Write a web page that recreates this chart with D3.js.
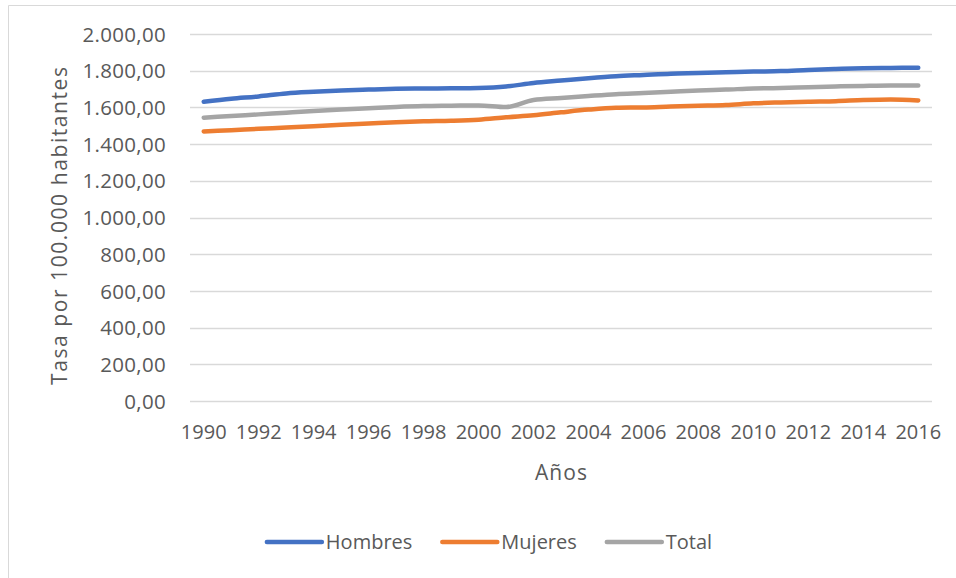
<!DOCTYPE html>
<html>
<head>
<meta charset="utf-8">
<script src="https://cdn.jsdelivr.net/npm/d3@7/dist/d3.min.js"></script>
<style>
  html, body { margin: 0; padding: 0; background: #fff; }
  svg { display: block; }
  text { font-family: "Open Sans", "Noto Sans", sans-serif; fill: #595959; }
</style>
</head>
<body>
<svg id="chart" width="956" height="578"></svg>
<script>
const years = [1990,1991,1992,1993,1994,1995,1996,1997,1998,1999,2000,2001,2002,2003,2004,2005,2006,2007,2008,2009,2010,2011,2012,2013,2014,2015,2016];
const hombres = [1631,1647,1660,1676,1685,1692,1697,1701,1703,1704,1706,1714,1733,1746,1759,1770,1777,1784,1787,1791,1795,1798,1804,1809,1813,1815,1816];
const mujeres = [1469,1476,1483,1490,1497,1505,1512,1519,1524,1527,1533,1546,1557,1573,1588,1598,1600,1605,1609,1613,1622,1627,1631,1634,1640,1643,1638];
const total   = [1544,1553,1562,1571,1580,1588,1595,1602,1607,1609,1611,1602,1640,1651,1662,1672,1678,1685,1692,1697,1703,1706,1710,1714,1717,1719,1719];
const yTicks = [0,200,400,600,800,1000,1200,1400,1600,1800,2000];
const xTickYears = [1990,1992,1994,1996,1998,2000,2002,2004,2006,2008,2010,2012,2014,2016];
const seriesNames = ["Hombres","Mujeres","Total"];
const seriesColors = ["#4472C4","#ED7D31","#A5A5A5"];

const svg = d3.select("#chart");
// chart border (only top and left visible in reference)
svg.append("line").attr("x1",8.5).attr("x2",956).attr("y1",5.5).attr("y2",5.5).attr("stroke","#d9d9d9").attr("stroke-width",1);
svg.append("line").attr("x1",8.5).attr("x2",8.5).attr("y1",5.5).attr("y2",578).attr("stroke","#d9d9d9").attr("stroke-width",1);

const x = d3.scaleBand().domain(years).range([190, 932]).padding(0);
const px = d => x(d) + x.bandwidth()/2;
const y = d3.scaleLinear().domain([0,2000]).range([401, 34]);

const loc = d3.formatLocale({decimal: ",", thousands: ".", grouping: [3], currency: ["", ""]});
const fmt = loc.format(",.2f");

// gridlines
svg.append("g").selectAll("line").data(yTicks).join("line")
  .attr("x1",190).attr("x2",932)
  .attr("y1",d=>Math.round(y(d))+0.5).attr("y2",d=>Math.round(y(d))+0.5)
  .attr("stroke","#d9d9d9").attr("stroke-width",1.3);

// y axis labels
const yAxis = d3.axisLeft(y).tickValues(yTicks).tickFormat(fmt).tickSize(0).tickPadding(0);
const gy = svg.append("g").attr("transform","translate(166,0)").call(yAxis);
gy.select(".domain").remove();
gy.selectAll("text").attr("font-size","20.5px").style("font-family","'Open Sans', sans-serif").attr("fill","#595959").attr("dy","0.35em").style("letter-spacing","0.3px");

// x axis labels
const xAxis = d3.axisBottom(x).tickValues(xTickYears).tickSize(0).tickPadding(0);
const gx = svg.append("g").attr("transform","translate(0,425)").call(xAxis);
gx.select(".domain").remove();
gx.selectAll("text").attr("font-size","20px").style("font-family","'Open Sans', sans-serif").attr("fill","#595959").attr("dy","0.72em");

// lines
const line = d3.line().x((d,i)=>px(years[i])).y(d=>y(d)).curve(d3.curveMonotoneX);
[hombres, mujeres, total].forEach((s,k)=>{
  svg.append("path").datum(s).attr("d",line)
    .attr("fill","none").attr("stroke",seriesColors[k]).attr("stroke-width",4.5)
    .attr("stroke-linecap","round").attr("stroke-linejoin","round");
});

// axis titles
svg.append("text").attr("x",561).attr("y",480).attr("text-anchor","middle").attr("font-size","21px")
  .attr("textLength",52).attr("lengthAdjust","spacing").text("Años");
svg.append("text").attr("transform","translate(67,226) rotate(-90)").attr("text-anchor","middle").attr("font-size","21px")
  .attr("textLength",318).attr("lengthAdjust","spacing").text("Tasa por 100.000 habitantes");

// legend
const lg = svg.append("g");
const items = seriesNames.map((n,k)=>{
  const g = lg.append("g");
  g.append("line").attr("x1",0).attr("x2",55).attr("y1",0).attr("y2",0)
    .attr("stroke",seriesColors[k]).attr("stroke-width",4.5).attr("stroke-linecap","round");
  const t = g.append("text").attr("x",59).attr("y",0).attr("dy","0.35em").attr("font-size","20px").text(n);
  return {g, w: 59 + t.node().getComputedTextLength()};
});
const gap = 30;
const totalW = d3.sum(items, d=>d.w) + gap*(items.length-1);
let cx = 489.5 - totalW/2;
items.forEach(it=>{ it.g.attr("transform",`translate(${cx},542)`); cx += it.w + gap; });
</script>
</body>
</html>
